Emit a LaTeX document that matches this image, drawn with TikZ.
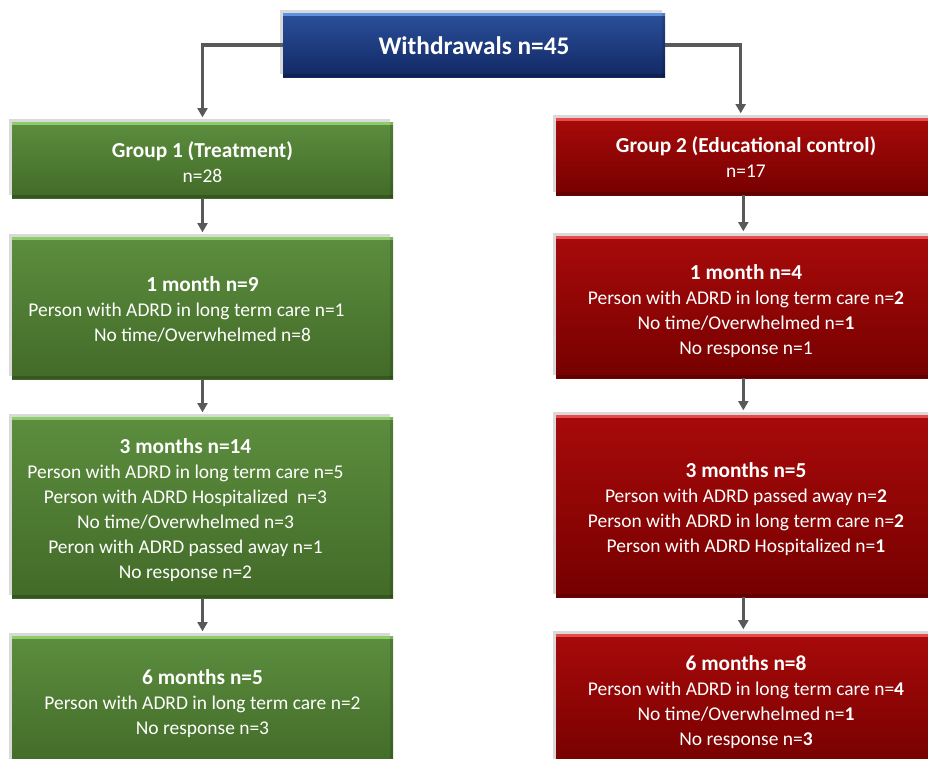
\documentclass[tikz,border=0pt]{standalone}
\usepackage{fontspec}
\setmainfont{Carlito}
\usetikzlibrary{arrows.meta,shadows}
\definecolor{bluetop}{RGB}{42,80,155}
\definecolor{bluebot}{RGB}{18,40,100}
\definecolor{bluelight}{RGB}{95,145,225}
\definecolor{greentop}{RGB}{92,142,62}
\definecolor{greenbot}{RGB}{66,106,40}
\definecolor{greenlight}{RGB}{140,205,105}
\definecolor{redtop}{RGB}{168,10,10}
\definecolor{redbot}{RGB}{118,0,0}
\definecolor{redlight}{RGB}{232,75,75}
\definecolor{conn}{RGB}{89,89,89}
\newcommand{\hd}[1]{{\fontsize{16}{18.75}\selectfont\bfseries #1}}
\tikzset{
  box/.style={draw=none, top color=#1top, bottom color=#1bot,
    inner sep=0pt, outer sep=0pt,
    drop shadow={shadow xshift=-2pt, shadow yshift=2pt, opacity=0.3, fill=gray},
    path picture={
      \fill[#1light] (path picture bounding box.north west) rectangle ([yshift=-2.2pt]path picture bounding box.north east);
      \fill[black,opacity=0.18] (path picture bounding box.south west) rectangle ([yshift=2pt]path picture bounding box.south east);
      \fill[black,opacity=0.12] (path picture bounding box.north east) rectangle ([xshift=-2pt]path picture bounding box.south east);
    }},
  gbox/.style={box=green, minimum width=285.75pt},
  rbox/.style={box=red, minimum width=285pt},
  txt/.style={text=white, align=center, inner sep=0pt, font=\fontsize{14.6}{18.75}\selectfont},
  conline/.style={draw=conn, line width=2.3pt, -{Triangle[length=7pt,width=7.5pt]}, shorten >=3.5pt}
}
\begin{document}
\begin{tikzpicture}[x=0.75pt,y=-0.75pt]
\useasboundingbox (0,0) rectangle (928,758);
\clip (0,0) rectangle (928,758);
% boxes
\node[box=blue, minimum width=286.5pt, minimum height=48pt] (top) at (474,45) {};
\node[gbox, minimum height=57pt] (g1) at (202.5,160) {};
\node[rbox, minimum height=57.75pt] (g2) at (746,156.5) {};
\node[gbox, minimum height=106.5pt] (g1a) at (202.5,308) {};
\node[rbox, minimum height=106.5pt] (g2a) at (746,307) {};
\node[gbox, minimum height=135.75pt] (g1b) at (202.5,507.5) {};
\node[rbox, minimum height=136.5pt] (g2b) at (746,506) {};
\node[gbox, minimum height=99pt] (g1c) at (202.5,702) {};
\node[rbox, minimum height=99pt] (g2c) at (746,700) {};

% texts
\node[txt, font=\fontsize{19}{22}\selectfont\bfseries] (topt) at ([shift={(0,1)}]top.center) {Withdrawals n=45};
\node[txt] (g1t) at ([shift={(0,2)}]g1.center) {\hd{Group 1 (Treatment)}\\n=28};
\node[txt] (g2t) at ([shift={(0,1)}]g2.center) {\hd{Group 2 (Educational control)}\\n=17};
\node[txt] (g1at) at ([shift={(0,1)}]g1a.center) {\hd{1 month n=9}\\Person with ADRD in long term care n=1\hspace*{24pt}\null\\No time/Overwhelmed n=8};
\node[txt] (g2at) at ([shift={(0,4)}]g2a.center) {\hd{1 month n=4}\\Person with ADRD in long term care n=\textbf{2}\\No time/Overwhelmed n=\textbf{1}\\No response n=1};
\node[txt] (g1bt) at ([shift={(-17,3)}]g1b.center) {\hd{3 months n=14}\\Person with ADRD in long term care n=5\\Person with ADRD Hospitalized\ \ n=3\\No time/Overwhelmed n=3\\Peron with ADRD passed away n=1\\No response n=2};
\node[txt] (g2bt) at ([shift={(0,3.5)}]g2b.center) {\hd{3 months n=5}\\Person with ADRD passed away n=\textbf{2}\\Person with ADRD in long term care n=\textbf{2}\\Person with ADRD Hospitalized n=\textbf{1}};
\node[txt] (g1ct) at ([shift={(0,2)}]g1c.center) {\hd{6 months n=5}\\Person with ADRD in long term care n=2\\No response n=3};
\node[txt] (g2ct) at ([shift={(0,2)}]g2c.center) {\hd{6 months n=8}\\Person with ADRD in long term care n=\textbf{4}\\No time/Overwhelmed n=\textbf{1}\\No response n=\textbf{3}};

% connectors
\draw[conline] (top.west) -| (g1.north);
\draw[conline] (top.east) -| ([xshift=-4]g2.north);
\draw[conline] (g1.south) -- (g1a.north);
\draw[conline] (g1a.south) -- (g1b.north);
\draw[conline] (g1b.south) -- (g1c.north);
\draw[conline] ([xshift=-2]g2.south) -- ([xshift=-2]g2a.north);
\draw[conline] ([xshift=-2]g2a.south) -- ([xshift=-2]g2b.north);
\draw[conline] ([xshift=-2]g2b.south) -- ([xshift=-2]g2c.north);
\end{tikzpicture}
\end{document}
